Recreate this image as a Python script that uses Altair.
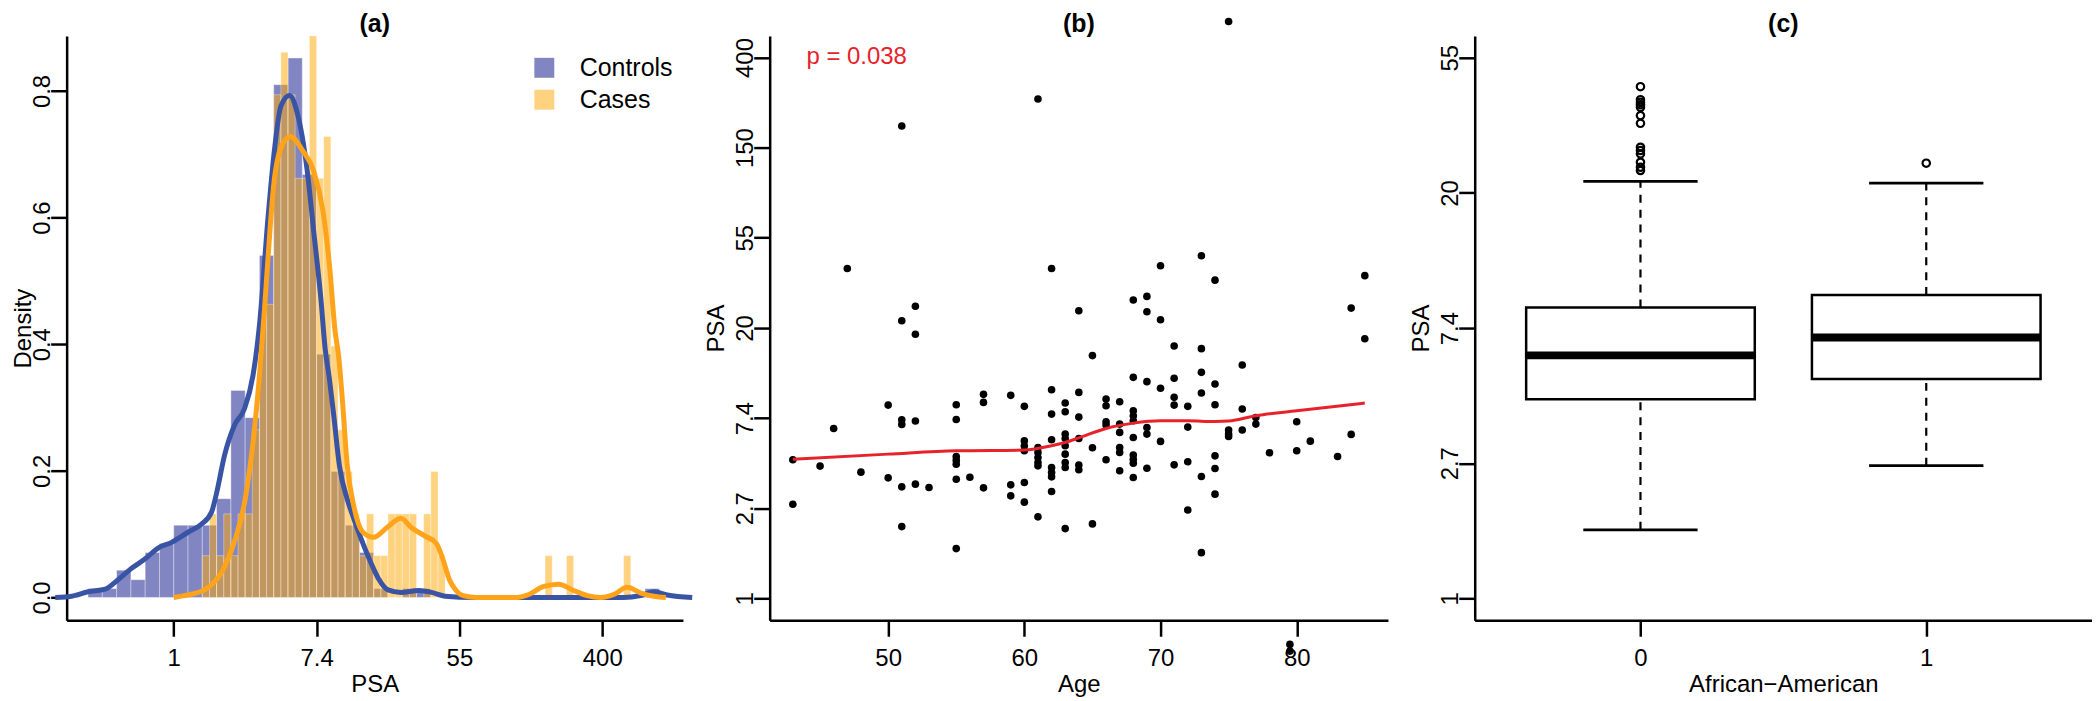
import altair as alt
import pandas as pd

FONT = "Liberation Sans"
BLUE_FILL = "rgba(25,35,145,0.55)"
ORANGE_FILL = "rgba(255,165,0,0.5)"
BLUE_LINE = "#3A54A5"
ORANGE_LINE = "#FFA31A"
RED = "#E8222B"

# ---------------- panel (a): log(PSA) histograms + densities ----------------
ctrl_bin_width = 0.2
ctrl_bin_start = [-1.2, -1.0, -0.8, -0.6, -0.4, -0.2, 0.0, 0.2, 0.4, 0.6, 0.8, 1.0,
                  1.2, 1.4, 1.6, 1.8, 2.0, 2.2, 2.4, 2.6, 2.8, 3.2, 3.4, 6.6]
ctrl_density = [0.014, 0.014, 0.043, 0.028, 0.071, 0.085, 0.114, 0.114, 0.114, 0.156, 0.327, 0.284,
                0.540, 0.810, 0.852, 0.668, 0.384, 0.199, 0.114, 0.071, 0.014, 0.014, 0.014, 0.014]

case_bin_width = 0.1
case_bin_start = [0.4, 0.5, 0.6, 0.7, 0.8, 0.9, 1.0, 1.1, 1.2, 1.3, 1.4, 1.5, 1.6, 1.7, 1.8, 1.9,
                  2.0, 2.1, 2.2, 2.3, 2.4, 2.5, 2.6, 2.7, 2.8, 2.9, 3.0, 3.1, 3.2, 3.3, 3.5, 3.6,
                  3.7, 5.2, 5.5, 6.3]
case_density = [0.066, 0.132, 0.066, 0.132, 0.066, 0.132, 0.132, 0.265, 0.463, 0.463, 0.794, 0.861,
                0.794, 0.662, 0.662, 0.927, 0.662, 0.728, 0.397, 0.265, 0.199, 0.132, 0.066, 0.132,
                0.066, 0.066, 0.132, 0.132, 0.132, 0.132, 0.132, 0.199, 0.066, 0.066, 0.066, 0.066]

ctrl_curve_x = [-1.66, -1.43, -1.2, -0.96, -0.8, -0.59, -0.4, -0.22, -0.03, 0.2, 0.39, 0.53, 0.6,
                0.71, 0.85, 0.99, 1.11, 1.2, 1.32, 1.41, 1.5, 1.62, 1.73, 1.87, 1.96, 2.06, 2.12,
                2.18, 2.24, 2.32, 2.43, 2.52, 2.65, 2.8, 2.87, 3.0, 3.18, 3.43, 3.61, 3.8, 4.2,
                6.3, 6.54, 6.73, 6.91, 7.26]
ctrl_curve_y = [0.0, 0.002, 0.009, 0.013, 0.026, 0.046, 0.061, 0.078, 0.087, 0.103, 0.116, 0.135, 0.165,
                0.224, 0.272, 0.298, 0.351, 0.43, 0.60, 0.707, 0.776, 0.793, 0.765, 0.673, 0.578, 0.472, 0.393,
                0.345, 0.288, 0.208, 0.155, 0.125, 0.085, 0.045, 0.029, 0.012, 0.008, 0.011, 0.008, 0.002, 0.0,
                0.0, 0.003, 0.009, 0.004, 0.0]

case_curve_x = [0.0, 0.15, 0.43, 0.71, 0.87, 1.0, 1.11, 1.2, 1.27, 1.31, 1.4, 1.5, 1.63, 1.81, 1.96,
                2.09, 2.18, 2.26, 2.31, 2.36, 2.43, 2.52, 2.65, 2.8, 2.99, 3.18, 3.33, 3.52, 3.68, 3.77,
                3.86, 3.94, 4.05, 4.24, 4.8, 4.98, 5.17, 5.39, 5.6, 5.79, 5.98, 6.17, 6.35, 6.54, 6.72, 6.89]
case_curve_y = [0.0, 0.003, 0.012, 0.048, 0.095, 0.155, 0.245, 0.35, 0.454, 0.52, 0.652, 0.71, 0.728, 0.705,
                0.673, 0.61, 0.525, 0.42, 0.38, 0.314, 0.208, 0.145, 0.103, 0.095, 0.111, 0.125, 0.11, 0.097,
                0.085, 0.06, 0.028, 0.013, 0.003, 0.0, 0.0, 0.005, 0.017, 0.021, 0.011, 0.003, 0.0, 0.005,
                0.016, 0.007, 0.002, 0.0]

groups = ["Controls", "Cases"]
psa_ticks = [0, 2, 4, 6]
density_ticks = [0.0, 0.2, 0.4, 0.6, 0.8]
log_tick_labels = ["1", "2.7", "7.4", "20", "55", "150", "400"]
panel_titles = ["(a)", "(b)", "(c)"]

# ---------------- panel (b): Age vs log(PSA) ----------------
ages = [47, 51, 51, 52, 52, 61, 62, 64, 68, 69, 69, 70, 70, 71, 73, 73, 74, 75, 84, 85, 85,
        43, 43, 45, 46, 48, 50, 50, 51, 51, 51, 51, 52, 52, 53,
        55, 55, 55, 55, 55, 55, 55, 56, 57, 57, 57, 59, 59, 59,
        60, 60, 60, 60, 60, 60, 61, 61, 61, 61, 61, 61,
        62, 62, 62, 62, 62, 62, 62,
        63, 63, 63, 63, 63, 63, 63, 63, 63,
        64, 64, 64, 64, 64, 65, 65, 65,
        66, 66, 66, 66, 66, 67, 67, 67, 67, 67, 67,
        68, 68, 68, 68, 68, 68, 68, 68, 68,
        69, 69, 69, 69, 70, 70,
        71, 71, 71, 71, 72, 72, 72, 72,
        73, 73, 73, 73, 74, 74, 74, 74, 74,
        75, 75, 75, 76, 76, 76, 77, 77, 78, 80, 80, 81, 83, 84, 79.5, 79.5]
log_psa = [3.66, 5.24, 3.08, 3.24, 2.93, 5.54, 3.66, 3.19, 3.31, 3.35, 3.18, 3.69, 3.09, 2.80, 3.80, 2.77,
           3.53, 6.40, 3.22, 3.58, 2.88,
           1.537, 1.044, 1.467, 1.885, 1.40, 2.144, 1.337, 1.98, 1.93, 1.237, 0.796, 1.967, 1.267, 1.23,
           2.148, 1.985, 1.574, 1.533, 1.489, 1.322, 0.552, 1.344, 2.263, 2.174, 1.226, 2.252, 1.259, 1.137,
           2.13, 1.748, 1.693, 1.637, 1.285, 1.067, 1.674, 1.619, 1.563, 1.507, 1.47, 0.904,
           2.315, 2.044, 1.759, 1.452, 1.396, 1.348, 1.185,
           2.167, 2.07, 1.822, 1.774, 1.693, 1.6, 1.507, 1.452, 0.774,
           2.285, 2.011, 1.774, 1.478, 1.426, 2.693, 1.67, 0.826,
           2.211, 2.137, 1.959, 1.922, 1.537, 2.181, 1.933, 1.841, 1.674, 1.619, 1.415,
           2.452, 2.081, 2.026, 1.97, 1.785, 1.589, 1.544, 1.5, 1.341,
           2.404, 1.896, 1.822, 1.444, 2.33, 1.741,
           2.441, 2.23, 2.144, 1.481, 2.13, 1.9, 1.515, 0.981,
           2.507, 2.278, 1.352, 0.507, 2.378, 2.148, 1.581, 1.441, 1.156,
           1.867, 1.822, 1.796, 2.589, 2.1, 1.867, 2.007, 1.933, 1.615, 1.959, 1.637, 1.744, 1.574,
           1.819, -0.511, -0.585]

loess_age = [43, 50, 55, 60, 62, 63, 64, 66, 68, 70, 72, 74, 75, 77, 80, 85]
loess_log_psa = [1.544, 1.60, 1.637, 1.645, 1.693, 1.73, 1.78, 1.885, 1.944, 1.97, 1.97, 1.962,
                 1.967, 2.026, 2.081, 2.167]

p_label = ["p = 0.038"]
p_age = [44.0]
p_log_psa = [5.93]
age_ticks = [50, 60, 70, 80]

# ---------------- panel (c): boxplot by African-American ----------------
box_pos = [1, 2]
box_q1 = [1.474, 1.624]
box_median = [1.798, 1.931]
box_q3 = [2.153, 2.244]
box_whisker_lo = [0.507, 0.982]
box_whisker_hi = [3.085, 3.073]
outlier_pos = [1] * 13 + [2]
outlier_log_psa = [3.786, 3.690, 3.670, 3.653, 3.633, 3.572, 3.515, 3.338, 3.314, 3.289,
                   3.227, 3.190, 3.166, 3.220]
aa_labels = ["", "0", "1"]

# ---------------- layout ----------------
W_A, W_B, W_C = 618, 620, 619
H = 586
BOX_HALF = 0.4
CAP_HALF = 0.2
TITLE_BASELINE = -4
TITLE_SIZE = 25


def label_expr(labels):
    return "[" + ",".join("'%s'" % s for s in labels) + "][datum.value]"


AX_COMMON = dict(domainColor="black", domainWidth=2.5, tickColor="black", tickWidth=2.5,
                 tickSize=16, labelFont=FONT, labelFontSize=24, labelColor="black",
                 titleFont=FONT, titleFontSize=24, titleColor="black", titleFontWeight="normal",
                 grid=False, labelOverlap=False, labelFlush=False)


def x_axis(values, expr=None, fmt=None):
    kw = dict(AX_COMMON, values=values, labelPadding=10, labelBaseline="top",
              titleY=71, titleBaseline="alphabetic")
    if expr:
        kw["labelExpr"] = expr
    if fmt:
        kw["format"] = fmt
    return alt.Axis(**kw)


def y_axis(values, expr=None, fmt=None, title_x=-46):
    kw = dict(AX_COMMON, values=values, labelAngle=270, labelAlign="center",
              labelBaseline="alphabetic", labelPadding=1.5, titleAngle=270, titleX=title_x,
              titleY=H / 2, titleAlign="center", titleBaseline="alphabetic")
    if expr:
        kw["labelExpr"] = expr
    if fmt:
        kw["format"] = fmt
    return alt.Axis(**kw)


def title_layer(txt, width):
    return alt.Chart(pd.DataFrame({"t": [txt]})).mark_text(
        font=FONT, fontSize=TITLE_SIZE, fontWeight="bold", color="black", align="center",
        baseline="alphabetic").encode(text="t:N", x=alt.value(width / 2),
                                      y=alt.value(TITLE_BASELINE))


# ----- panel (a)
hist_rows = []
for s, d in zip(ctrl_bin_start, ctrl_density):
    hist_rows.append({"group": "Controls", "start": s, "end": round(s + ctrl_bin_width, 3),
                      "density": d, "base": 0.0})
for s, d in zip(case_bin_start, case_density):
    hist_rows.append({"group": "Cases", "start": s, "end": round(s + case_bin_width, 3),
                      "density": d, "base": 0.0})
hist_df = pd.DataFrame(hist_rows)
ctrl_curve_df = pd.DataFrame({"ln": ctrl_curve_x, "density": ctrl_curve_y})
case_curve_df = pd.DataFrame({"ln": case_curve_x, "density": case_curve_y})

YA_MAX = 0.887
xa_scale = alt.Scale(domain=[-1.5, 7.13], nice=False, zero=False)
ya_scale = alt.Scale(domain=[-0.036, YA_MAX], nice=False, zero=False)
xa_axis = x_axis(psa_ticks, expr=label_expr(log_tick_labels))
ya_axis = y_axis(density_ticks, fmt=".1f", title_x=-36.5)

hist = alt.Chart(hist_df).transform_calculate(
    shown="min(datum.density, %s)" % YA_MAX  # bars are cut at the top of the plot region
).mark_rect(stroke="white", strokeOpacity=0.35, strokeWidth=1).encode(
    x=alt.X("start:Q", scale=xa_scale, axis=xa_axis, title="PSA"),
    x2="end:Q",
    y=alt.Y("shown:Q", scale=ya_scale, axis=ya_axis, title="Density"),
    y2="base:Q",
    color=alt.Color("group:N",
                    scale=alt.Scale(domain=groups, range=[BLUE_FILL, ORANGE_FILL]),
                    legend=alt.Legend(title=None, orient="none", legendX=466.5, legendY=19.5,
                                      symbolType="square", symbolSize=400, symbolStrokeWidth=0,
                                      labelFont=FONT, labelFontSize=25, labelColor="black",
                                      labelOffset=23, rowPadding=6, padding=0, labelLimit=300)),
)
ctrl_line = alt.Chart(ctrl_curve_df).mark_line(color=BLUE_LINE, strokeWidth=5, clip=False,
                                               interpolate="monotone").encode(
    x=alt.X("ln:Q", scale=xa_scale, axis=xa_axis, title="PSA"),
    y=alt.Y("density:Q", scale=ya_scale, axis=ya_axis, title="Density"),
)
case_line = alt.Chart(case_curve_df).mark_line(color=ORANGE_LINE, strokeWidth=5, clip=False,
                                               interpolate="monotone").encode(
    x=alt.X("ln:Q", scale=xa_scale, axis=xa_axis, title="PSA"),
    y=alt.Y("density:Q", scale=ya_scale, axis=ya_axis, title="Density"),
)
panel_a = alt.layer(hist, ctrl_line, case_line, title_layer(panel_titles[0], W_A)).properties(
    width=W_A, height=H)

# ----- panel (b)
scatter_df = pd.DataFrame({"age": ages, "lnpsa": log_psa})
loess_df = pd.DataFrame({"age": loess_age, "lnpsa": loess_log_psa})
p_df = pd.DataFrame({"age": p_age, "lnpsa": p_log_psa, "label": p_label})

xb = alt.X("age:Q", scale=alt.Scale(domain=[41.3, 86.7], nice=False, zero=False),
           axis=x_axis(age_ticks), title="Age")
yb = alt.Y("lnpsa:Q", scale=alt.Scale(domain=[-0.243, 6.24], nice=False, zero=False),
           axis=y_axis(list(range(7)), expr=label_expr(log_tick_labels)), title="PSA")

pts = alt.Chart(scatter_df).mark_circle(size=58, color="black", opacity=1, clip=False).encode(
    x=xb, y=yb)
loess = alt.Chart(loess_df).mark_line(color=RED, strokeWidth=3,
                                      interpolate="monotone").encode(x=xb, y=yb)
ptxt = alt.Chart(p_df).mark_text(align="left", baseline="alphabetic", font=FONT, fontSize=24,
                                 color=RED).encode(x=xb, y=yb, text="label:N")
panel_b = alt.layer(pts, loess, ptxt, title_layer(panel_titles[1], W_B)).properties(
    width=W_B, height=H)

# ----- panel (c)
box_df = pd.DataFrame({"pos": box_pos, "q1": box_q1, "median": box_median, "q3": box_q3,
                       "wlo": box_whisker_lo, "whi": box_whisker_hi})
out_df = pd.DataFrame({"pos": outlier_pos, "lnpsa": outlier_log_psa})

xc_scale = alt.Scale(domain=[0.42, 2.58], nice=False, zero=False)
yc_scale = alt.Scale(domain=[-0.162, 4.162], nice=False, zero=False)
xc_axis = x_axis([1, 2], expr=label_expr(aa_labels))
yc_axis = y_axis([0, 1, 2, 3, 4], expr=label_expr(log_tick_labels))
XT = "African\u2212American"


def xc(field):
    return alt.X(field, scale=xc_scale, axis=xc_axis, title=XT)


def yc(field):
    return alt.Y(field, scale=yc_scale, axis=yc_axis, title="PSA")


base_c = alt.Chart(box_df).transform_calculate(
    blo="datum.pos - %s" % BOX_HALF, bhi="datum.pos + %s" % BOX_HALF,
    clo="datum.pos - %s" % CAP_HALF, chi="datum.pos + %s" % CAP_HALF)

whisk_hi = base_c.mark_rule(color="black", strokeWidth=2.2, strokeDash=[8, 7]).encode(
    x=xc("pos:Q"), y=yc("q3:Q"), y2="whi:Q")
whisk_lo = base_c.mark_rule(color="black", strokeWidth=2.2, strokeDash=[8, 7]).encode(
    x=xc("pos:Q"), y=yc("wlo:Q"), y2="q1:Q")
cap_hi = base_c.mark_rule(color="black", strokeWidth=2.8).encode(
    x=xc("clo:Q"), x2="chi:Q", y=yc("whi:Q"))
cap_lo = base_c.mark_rule(color="black", strokeWidth=2.8).encode(
    x=xc("clo:Q"), x2="chi:Q", y=yc("wlo:Q"))
box = base_c.mark_rect(fill="white", stroke="black", strokeWidth=2.5).encode(
    x=xc("blo:Q"), x2="bhi:Q", y=yc("q1:Q"), y2="q3:Q")
med = base_c.mark_rule(color="black", strokeWidth=8).encode(
    x=xc("blo:Q"), x2="bhi:Q", y=yc("median:Q"))
outl = alt.Chart(out_df).mark_point(shape="circle", filled=False, color="black", size=55,
                                    strokeWidth=2.2, opacity=1).encode(
    x=xc("pos:Q"), y=yc("lnpsa:Q"))
panel_c = alt.layer(whisk_hi, whisk_lo, cap_hi, cap_lo, box, med, outl,
                    title_layer(panel_titles[2], W_C)).properties(width=W_C, height=H)

chart = alt.hconcat(panel_a, panel_b, panel_c, spacing=87, bounds="flush").properties(
    padding={"left": 2.8, "top": 3, "right": 0, "bottom": 0},
    background="white",
).configure_view(stroke=None)

chart.save("out.html", embed_options={"renderer": "svg", "actions": False})
